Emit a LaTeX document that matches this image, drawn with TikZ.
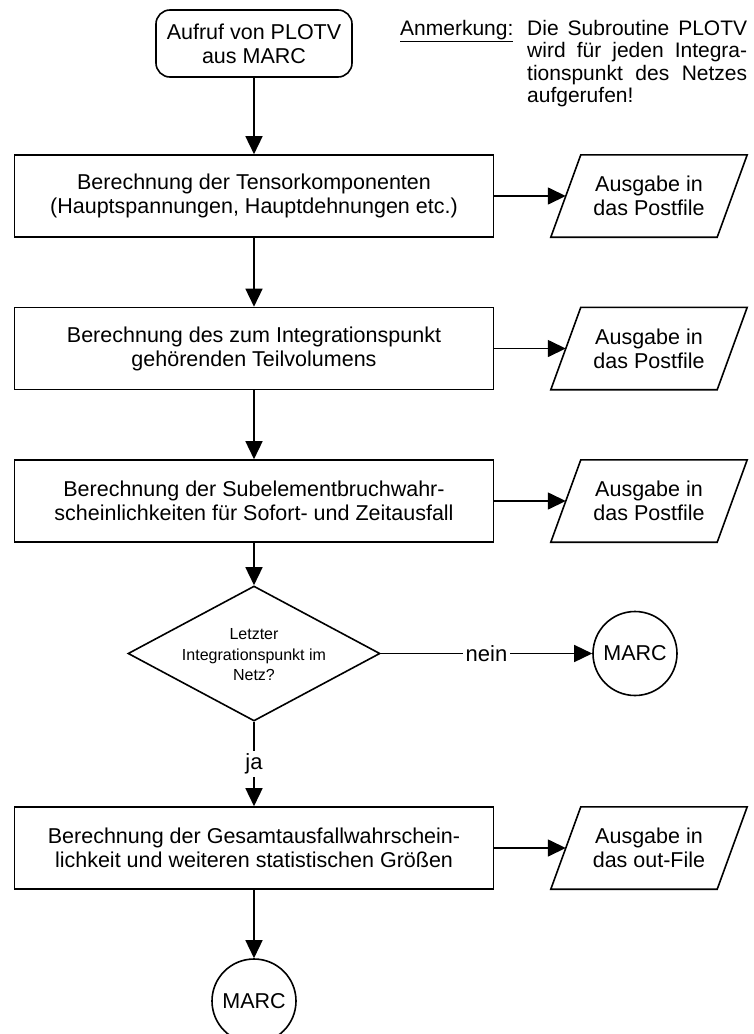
\documentclass[tikz,border=0pt]{standalone}
\usepackage{fontspec}
\setmainfont{Liberation Sans}
\usetikzlibrary{shapes.geometric,arrows.meta}
\begin{document}
\begin{tikzpicture}[x=1pt,y=-1pt,
  every node/.style={font=\fontsize{21.5}{24}\selectfont, text=black},
  arr/.style={line width=1.5pt, -{Triangle[length=18pt,width=17pt]}},
  proc/.style={draw, line width=1.6pt, minimum width=479pt, minimum height=82pt, align=center, inner sep=0pt},
  startbox/.style={draw, rounded corners=14pt, line width=1.6pt, minimum width=196pt, minimum height=67pt, align=center, inner sep=0pt},
  io/.style={minimum width=196pt, minimum height=82pt, align=center, inner sep=0pt},
  ioline/.style={line width=1.6pt, line join=miter},
  term/.style={draw, circle, minimum size=84pt, line width=1.6pt, inner sep=0pt},
  decbox/.style={draw, diamond, minimum width=252pt, minimum height=135pt, line width=1.6pt, inner sep=0pt},
  noteline/.style={inner sep=0pt, anchor=base west, font=\fontsize{21}{24}\selectfont},
  lab/.style={fill=white, inner sep=3pt, font=\fontsize{22}{24}\selectfont}
]
\path[use as bounding box, clip] (0,0) rectangle (754,1034);

% nodes
\node[startbox] (start) at (254,43.5) {Aufruf von PLOTV\\aus MARC};

\node[noteline] (anm) at (400,35) {\underline{Anmerkung:}};
\node[noteline] (n1) at (527,35) {\makebox[220pt][s]{Die Subroutine PLOTV}};
\node[noteline] (n2) at (527,57.5) {\makebox[220pt][s]{wird für jeden Integra-}};
\node[noteline] (n3) at (527,80) {\makebox[220pt][s]{tionspunkt des Netzes}};
\node[noteline] (n4) at (527,102.5) {aufgerufen!};

\node[proc] (b1) at (254,196) {Berechnung der Tensorkomponenten\\(Hauptspannungen, Hauptdehnungen etc.)};
\node[proc] (b2) at (254,348.5) {Berechnung des zum Integrationspunkt\\gehörenden Teilvolumens};
\node[proc] (b3) at (254,501) {Berechnung der Subelementbruchwahr-\\scheinlichkeiten für Sofort- und Zeitausfall};
\node[decbox] (dec) at (254,653.5) {};
\node[align=center, font=\fontsize{16}{20.5}\selectfont, inner sep=0pt] (dect) at (254,655) {Letzter\\Integrationspunkt im\\Netz?};
\node[proc] (b4) at (254,848) {Berechnung der Gesamtausfallwahrschein-\\lichkeit und weiteren statistischen Größen};
\node[term] (endc) at (254,1001) {MARC};
\node[term] (marc1) at (635,653.5) {MARC};

\node[io] (p1) at (649,196) {Ausgabe in\\das Postfile};
\node[io] (p2) at (649,348.5) {Ausgabe in\\das Postfile};
\node[io] (p3) at (649,501) {Ausgabe in\\das Postfile};
\node[io] (p4) at (649,848) {Ausgabe in\\das out-File};
\foreach \p in {p1,p2,p3,p4}{
  \draw[ioline] ([xshift=30pt]\p.north west) -- (\p.north east)
     -- ([xshift=-30pt]\p.south east) -- (\p.south west) -- cycle;
}

% connectors
\draw[arr] (start) -- (b1);
\draw[arr] (b1) -- (b2);
\draw[arr] (b2) -- (b3);
\draw[arr] (b3) -- (dec);
\draw[arr] (dec) -- node[lab] (ja) {ja} (b4);
\draw[arr] (b4) -- (endc);
\draw[arr] (dec.east) -- node[lab] (nein) {nein} (marc1);
\draw[arr] (b1.east) -- ([xshift=15pt]p1.west);
\draw[arr] (b2.east) -- ([xshift=15pt]p2.west);
\draw[arr] (b3.east) -- ([xshift=15pt]p3.west);
\draw[arr] (b4.east) -- ([xshift=15pt]p4.west);
\end{tikzpicture}
\end{document}
